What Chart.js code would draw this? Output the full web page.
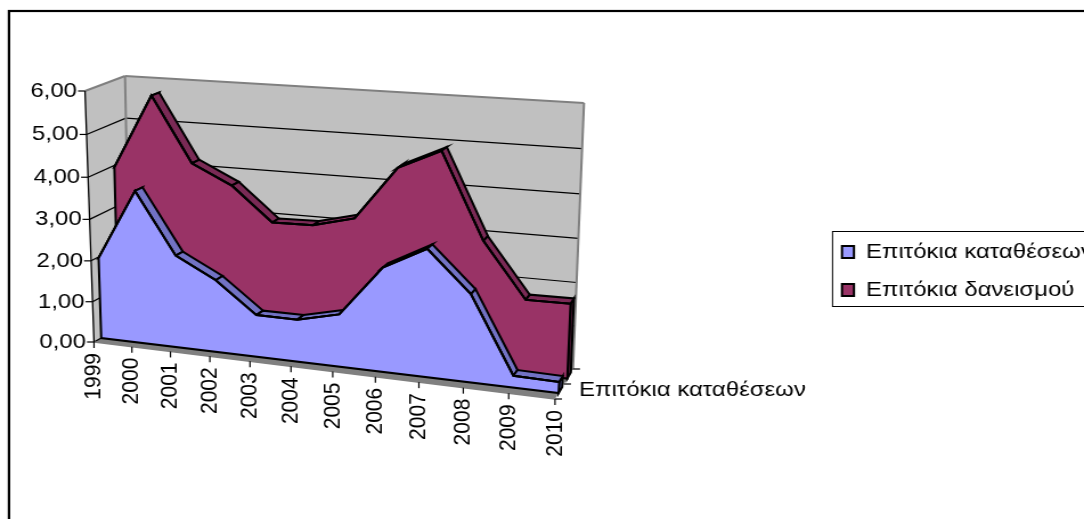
<!DOCTYPE html>
<html><head><meta charset="utf-8">
<style>html,body{margin:0;padding:0;background:#fff}canvas{display:block;width:1084px!important;height:519px!important}</style>
<script src="https://cdn.jsdelivr.net/npm/chart.js@4"></script>
</head><body><canvas id="c" width="951" height="519" style="width:1084px;height:519px"></canvas>
<script>
const years = ['1999','2000','2001','2002','2003','2004','2005','2006','2007','2008','2009','2010'];
const depositRates = [1.98,3.67,2.22,1.73,1.00,1.00,1.23,2.41,2.93,2.01,0.27,0.25];
const lendingRates = [3.96,5.71,4.19,3.74,2.95,2.97,3.21,4.44,4.89,2.95,1.70,1.71];
const seriesNames = ['Επιτόκια καταθέσεων','Επιτόκια δανεισμού'];
const FONT = {family:'"Liberation Sans",Arial,sans-serif', size:21};
const SX = 1084/951; // the picture is stretched horizontally

// corners of the front and back planes of the box: [bottom-left, bottom-right, top-right, top-left]
const FRONT = [[94,342],[555,399],[569,120],[85,91]];
const BACK  = [[130,322],[573,369],[584,103],[125,76]];
const DEPTH = [[0.2,0.4],[0.68,0.88]];

function squareToQuad(q){
  const [[x0,y0],[x1,y1],[x2,y2],[x3,y3]] = q;
  const dx1=x1-x2,dx2=x3-x2,sx=x0-x1+x2-x3,dy1=y1-y2,dy2=y3-y2,sy=y0-y1+y2-y3;
  const d=dx1*dy2-dx2*dy1;
  const g=(sx*dy2-dx2*sy)/d,h=(dx1*sy-sx*dy1)/d;
  return [x1-x0+g*x1,x3-x0+h*x3,x0,y1-y0+g*y1,y3-y0+h*y3,y0,g,h];
}
function quadAt(w){return FRONT.map((p,i)=>[p[0]+(BACK[i][0]-p[0])*w,p[1]+(BACK[i][1]-p[1])*w]);}
function toScreen(chart,xp,yp,w){
  const a=chart.chartArea,u=(xp-a.left)/(a.right-a.left),v=(a.bottom-yp)/(a.bottom-a.top);
  const m=squareToQuad(quadAt(w)),den=m[6]*u+m[7]*v+1;
  return [(m[0]*u+m[1]*v+m[2])/den/SX,(m[3]*u+m[4]*v+m[5])/den];
}
function poly(ctx,pts,fill,stroke,lw){
  ctx.beginPath();pts.forEach((p,i)=>i?ctx.lineTo(p[0],p[1]):ctx.moveTo(p[0],p[1]));ctx.closePath();
  if(fill){ctx.fillStyle=fill;ctx.fill();}
  if(stroke){ctx.strokeStyle=stroke;ctx.lineWidth=lw||1;ctx.stroke();}
}
function line(ctx,a,b,c,lw){ctx.beginPath();ctx.moveTo(a[0],a[1]);ctx.lineTo(b[0],b[1]);ctx.strokeStyle=c;ctx.lineWidth=lw||1;ctx.stroke();}

const SIDE=['#7272C4','#7A2A55'], CAP=['#5A5AA0','#4A1833'];

const box3d={
  id:'box3d',
  afterDatasetsUpdate(chart){
    chart.data.datasets.forEach((ds,d)=>{
      const meta=chart.getDatasetMeta(d);
      meta.flat=meta.data.map(p=>[p.x,p.y]);
      meta.data.forEach((p,i)=>{const s=toScreen(chart,meta.flat[i][0],meta.flat[i][1],DEPTH[d][0]);p.x=s[0];p.y=s[1];});
    });
  },
  beforeDraw(chart){
    const {x:xs,y:ys}=chart.scales,ctx=chart.ctx,a=chart.chartArea;
    // move the library's tick labels onto the projected axes
    ys.getLabelItems().forEach((it,i)=>{
      const s=toScreen(chart,a.left,ys.getPixelForValue(ys.ticks[i].value),0);
      Object.assign(it.options,{translation:[s[0]-8/SX,s[1]],textAlign:'right',textBaseline:'middle',rotation:0});
      it.textOffset=0;
    });
    xs.getLabelItems().forEach((it,i)=>{
      const s=toScreen(chart,xs.getPixelForValue(i),a.bottom,0);
      Object.assign(it.options,{translation:[s[0],s[1]+11],textAlign:'right',textBaseline:'middle',rotation:-Math.PI/2});
      it.textOffset=0;
    });
    // widen the scales' label clip to the whole canvas
    ys.left=0;ys.right=chart.width;xs.top=0;xs.bottom=chart.height;
    const lg=chart.legend;
    lg.left=842/SX-17;lg.right=chart.width;lg.top=224.5;lg.bottom=600;

    // frame: only the top and left edges fall inside the picture
    ctx.save();
    ctx.strokeStyle='#000';ctx.lineWidth=2.2;
    ctx.strokeRect(9/SX,11,1200,600);
    ctx.restore();
    // walls, floor, grid
    ctx.save();
    const Z0=a.bottom,Z1=a.top,L=a.left,R=a.right;
    const P=(x,y,w)=>toScreen(chart,x,y,w);
    poly(ctx,[P(L,Z0,0),P(L,Z0,1),P(L,Z1,1),P(L,Z1,0)],'#C0C0C0');
    poly(ctx,[P(L,Z0,1),P(R,Z0,1),P(R,Z1,1),P(L,Z1,1)],'#C0C0C0');
    poly(ctx,[P(L,Z0,0),P(R,Z0,0),P(R,Z0,1),P(L,Z0,1)],'#808080');
    ys.ticks.forEach(t=>{
      const y=ys.getPixelForValue(t.value);
      if(t.value===6)return;
      line(ctx,P(L,y,0),P(L,y,1),'#000',1.2);
      line(ctx,P(L,y,1),P(R,y,1),'#000',1.2);
    });
    // wall edges
    line(ctx,P(L,Z1,0),P(L,Z1,1),'#808080',2);
    line(ctx,P(L,Z1,1),P(R,Z1,1),'#808080',2);
    line(ctx,P(L,Z1,1),P(L,Z0,1),'#808080',2);
    line(ctx,P(R,Z1,1),P(R,Z0,1),'#808080',2);
    line(ctx,P(L,Z0,0),P(R,Z0,0),'#808080',1.5);
    // axes and ticks
    line(ctx,P(L,Z1,0),P(L,Z0,0),'#000',1.3);
    ys.ticks.forEach(t=>{const s=P(L,ys.getPixelForValue(t.value),0);line(ctx,[s[0]-7/SX,s[1]],s,'#000',1.2);});
    years.forEach((_,i)=>{const s=P(xs.getPixelForValue(i),Z0,0);line(ctx,s,[s[0],s[1]+6],'#000',1.2);});
    [0,0.5,1].forEach(w=>{const s=P(R,Z0,w);line(ctx,s,[s[0]+7/SX,s[1]],'#000',1.2);});
    ctx.restore();
    // depth-axis label
    ctx.save();
    ctx.font=FONT.size+'px '+FONT.family;ctx.fillStyle='#000';ctx.textAlign='left';ctx.textBaseline='middle';
    ctx.fillText(seriesNames[0],579/SX,390);
    ctx.restore();
  },
  beforeDatasetDraw(chart,args){
    const d=args.index,meta=args.meta,ctx=chart.ctx,[w0,w1]=DEPTH[d];
    const a=chart.chartArea;
    const flat=meta.flat;
    const front=flat.map(f=>toScreen(chart,f[0],f[1],w0));
    const back=flat.map(f=>toScreen(chart,f[0],f[1],w1));
    const b0=toScreen(chart,flat[0][0],a.bottom,w0),b1=toScreen(chart,flat[flat.length-1][0],a.bottom,w0);
    const bb1=toScreen(chart,flat[flat.length-1][0],a.bottom,w1);
    ctx.save();
    ctx.lineJoin='miter';
    // end cap
    const n=front.length-1;
    poly(ctx,[front[n],back[n],bb1,b1],CAP[d],'#000',2);
    // top bands
    for(let i=0;i<n;i++) poly(ctx,[front[i],front[i+1],back[i+1],back[i]],SIDE[d],'#000',2);
    // front face
    poly(ctx,[b0,...front,b1],chart.data.datasets[d].backgroundColor,'#000',2);
    ctx.restore();
  },
  afterDraw(chart){
    const ctx=chart.ctx;
    ctx.save();ctx.strokeStyle='#000';ctx.lineWidth=1;
    ctx.strokeRect(832.5/SX,231.5,300,75);
    ctx.restore();
  }
};

new Chart(document.getElementById('c'),{
  type:'line',
  data:{labels:years,datasets:[
    {label:seriesNames[0],data:depositRates,backgroundColor:'#9999FF',borderColor:'#000',borderWidth:2,fill:false,pointRadius:0,tension:0,clip:false},
    {label:seriesNames[1],data:lendingRates,backgroundColor:'#993366',borderColor:'#000',borderWidth:2,fill:false,pointRadius:0,tension:0,clip:false}
  ]},
  options:{
    responsive:false,animation:false,
    layout:{padding:{left:10,top:20,right:200,bottom:20}},
    plugins:{
      tooltip:{enabled:false},
      legend:{position:'right',align:'start',labels:{boxWidth:10.5,boxHeight:12,padding:17,color:'#000',font:FONT}}
    },
    scales:{
      x:{type:'category',offset:false,grid:{display:false},border:{display:false},
         ticks:{color:'#000',font:FONT,autoSkip:false,maxRotation:90,minRotation:90}},
      y:{min:0,max:6,grid:{display:false},border:{display:false},
         ticks:{stepSize:1,color:'#000',font:FONT,callback:v=>v.toFixed(2).replace('.',',')}}
    }
  },
  plugins:[box3d]
});
</script></body></html>
